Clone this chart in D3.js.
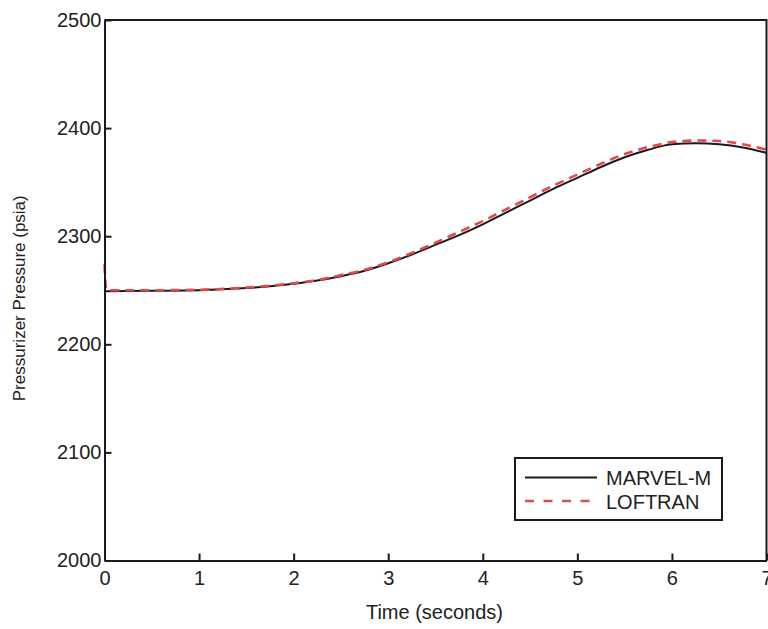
<!DOCTYPE html>
<html>
<head>
<meta charset="utf-8">
<script src="https://cdn.jsdelivr.net/npm/d3@7"></script>
<style>
  html, body { margin: 0; padding: 0; background: #fff; }
  svg { display: block; }
  text { font-family: "Liberation Sans", Arial, sans-serif; fill: #222; }
</style>
</head>
<body>
<svg id="chart" width="768" height="629"></svg>
<script>
// Pressurizer pressure transient, two codes compared
const timeMarvel = [0, 0.5, 1, 1.5, 2, 2.25, 2.5, 2.75, 3, 3.25, 3.5, 3.75, 4, 4.25, 4.5, 4.75, 5, 5.25, 5.5, 5.75, 6, 6.25, 6.5, 6.75, 7];
const pressMarvel = [2249, 2249.5, 2250, 2252, 2256, 2259, 2263, 2268, 2275, 2283, 2292, 2301, 2311, 2322, 2333, 2344, 2354, 2364, 2373, 2380, 2385, 2386, 2385, 2382, 2377];

const timeLoftran = [0, 0.02, 0.5, 1, 1.5, 2, 2.25, 2.5, 2.75, 3, 3.25, 3.5, 3.75, 4, 4.25, 4.5, 4.75, 5, 5.25, 5.5, 5.75, 6, 6.25, 6.5, 6.75, 7];
const pressLoftran = [2274, 2250, 2250, 2250.5, 2252.5, 2256.5, 2259.5, 2264, 2269, 2276, 2284.5, 2294, 2304, 2314, 2325, 2336, 2347, 2357, 2367, 2376, 2382.5, 2387, 2388.5, 2388, 2385, 2380];

const xTicks = [0, 1, 2, 3, 4, 5, 6, 7];
const yTicks = [2000, 2100, 2200, 2300, 2400, 2500];

const seriesNames = ["MARVEL-M", "LOFTRAN"];
const seriesColors = ["#1a1a1a", "#e5484a"];

const svg = d3.select("#chart");
const plotLeft = 104.5, plotRight = 766.5, plotTop = 20, plotBottom = 560.5;

const x = d3.scaleLinear().domain([0, 7]).range([plotLeft, plotRight]);
const y = d3.scaleLinear().domain([2000, 2500]).range([plotBottom, plotTop]);

// Curves
const line = d3.line().x(d => x(d[0])).y(d => y(d[1])).curve(d3.curveMonotoneX);
const marvel = timeMarvel.map((t, i) => [t, pressMarvel[i]]);
const loftran = timeLoftran.map((t, i) => [t, pressLoftran[i]]);

svg.append("path").datum(marvel)
  .attr("d", line).attr("fill", "none")
  .attr("stroke", seriesColors[0]).attr("stroke-width", 2);

svg.append("path").datum(loftran)
  .attr("d", line).attr("fill", "none")
  .attr("stroke", seriesColors[1]).attr("stroke-width", 2.6)
  .attr("stroke-dasharray", "9,6");

// Axes with inward ticks
const xAxis = d3.axisBottom(x).tickValues(xTicks).tickFormat(d3.format("d"))
  .tickSizeInner(-7).tickSizeOuter(0).tickPadding(10);
const gx = svg.append("g").attr("transform", `translate(0,${plotBottom})`).call(xAxis);

const yAxis = d3.axisLeft(y).tickValues(yTicks).tickFormat(d3.format("d"))
  .tickSizeInner(-7).tickSizeOuter(0).tickPadding(3);
const gy = svg.append("g").attr("transform", `translate(${plotLeft},0)`).call(yAxis);

[gx, gy].forEach(g => {
  g.select(".domain").attr("stroke", "#1a1a1a").attr("stroke-width", 2);
  g.selectAll(".tick line").attr("stroke", "#1a1a1a").attr("stroke-width", 2);
  g.selectAll(".tick text").attr("font-size", 20)
    .attr("font-family", "Liberation Sans, Arial, sans-serif").attr("fill", "#222");
});
gx.selectAll(".tick text").attr("dy", "0.71em");

// Frame top and right
svg.append("path")
  .attr("d", `M${plotLeft},${plotTop}H${plotRight}V${plotBottom}`)
  .attr("fill", "none").attr("stroke", "#1a1a1a").attr("stroke-width", 2);

// Axis titles
svg.append("text")
  .attr("x", (plotLeft + plotRight) / 2 - 1).attr("y", 619)
  .attr("text-anchor", "middle").attr("font-size", 20)
  .text("Time (seconds)");

svg.append("text")
  .attr("transform", `translate(25,${(plotTop + plotBottom) / 2 + 8}) rotate(-90)`)
  .attr("text-anchor", "middle").attr("font-size", 17)
  .text("Pressurizer Pressure (psia)");

// Legend
const lg = svg.append("g").attr("transform", "translate(515,458)");
lg.append("rect").attr("width", 207).attr("height", 62)
  .attr("fill", "#fff").attr("stroke", "#1a1a1a").attr("stroke-width", 2);
seriesNames.forEach((name, i) => {
  const yy = 19.5 + i * 23.5;
  lg.append("line").attr("x1", 10).attr("x2", 82).attr("y1", yy).attr("y2", yy)
    .attr("stroke", seriesColors[i]).attr("stroke-width", i === 0 ? 2 : 2.6)
    .attr("stroke-dasharray", i === 0 ? null : "9,9.5");
  lg.append("text").attr("x", 91).attr("y", yy + 7.5)
    .attr("font-size", 20).text(name);
});
</script>
</body>
</html>
